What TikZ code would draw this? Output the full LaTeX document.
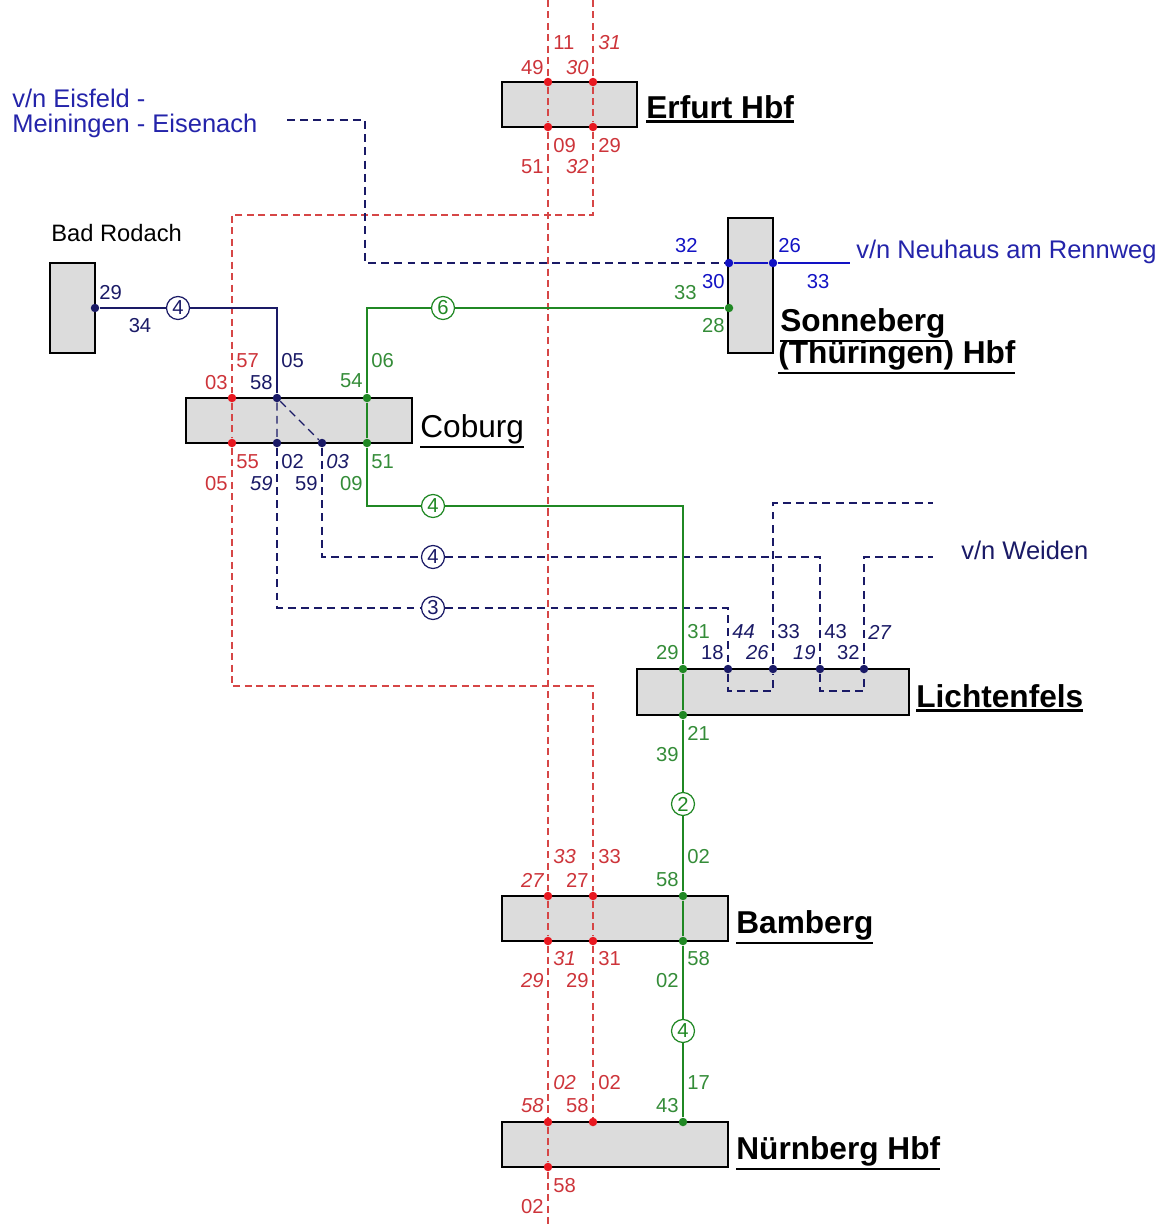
\documentclass[tikz,border=0pt]{standalone}
\usepackage{fontspec}
\setmainfont{Liberation Sans}
\usetikzlibrary{positioning}

\definecolor{rlred}{RGB}{214,70,70}
\definecolor{dotred}{RGB}{232,24,32}
\definecolor{txtred}{RGB}{205,52,58}
\definecolor{rlgreen}{RGB}{32,136,36}
\definecolor{txtgreen}{RGB}{52,140,56}
\definecolor{rlnavy}{RGB}{26,26,102}
\definecolor{rlblue}{RGB}{18,18,196}
\definecolor{txtblue}{RGB}{36,36,170}
\definecolor{boxgray}{RGB}{220,220,220}

\newcommand{\numfont}{\fontsize{11.5}{13}\selectfont}
\newcommand{\stnfont}{\fontsize{18}{20}\selectfont}
\newcommand{\vnfont}{\fontsize{14.5}{17}\selectfont}
\newcommand{\stnline}[1]{\vtop{\hbox{#1}\kern1.1pt\hrule height 1.3pt}}

\begin{document}
\begin{tikzpicture}[x=0.02cm,y=-0.02cm,
    stn/.style={draw=black,line width=0.9pt,fill=boxgray,inner sep=0pt},
    jdot/.style={circle,fill=#1,inner sep=0pt,minimum size=0.17cm},
    nring/.style={circle,draw=#1,text=#1,fill=white,line width=0.7pt,inner sep=0pt,minimum size=0.46cm,font=\numfont},
    pnum/.style={text=#1,inner sep=0pt,font=\numfont},
    pnumi/.style={text=#1,inner sep=0pt,font=\numfont\itshape},
    redline/.style={draw=rlred,line width=0.6pt,dash pattern=on 4pt off 2.5pt},
    navydash/.style={draw=rlnavy,line width=0.75pt,dash pattern=on 4.5pt off 3pt},
    navyline/.style={draw=rlnavy,line width=0.75pt},
    blueline/.style={draw=rlblue,line width=0.75pt},
    greenline/.style={draw=rlgreen,line width=0.75pt}]
    \useasboundingbox (0,0) rectangle (1168,1225);

    % stations
    \node[stn,minimum width=2.7cm,minimum height=0.9cm] (erfurt) at (569.5,104.5) {};
    \node[stn,minimum width=0.9cm,minimum height=2.7cm] (sonneberg) at (750.5,285.5) {};
    \node[stn,minimum width=0.9cm,minimum height=1.8cm] (rodach) at (72.5,308) {};
    \node[stn,minimum width=4.52cm,minimum height=0.9cm] (coburg) at (299,420.5) {};
    \node[stn,minimum width=5.44cm,minimum height=0.92cm] (lichtenfels) at (773,692) {};
    \node[stn,minimum width=4.52cm,minimum height=0.9cm] (bamberg) at (615,918.5) {};
    \node[stn,minimum width=4.52cm,minimum height=0.9cm] (nuernberg) at (615,1144.5) {};

    \node[anchor=base west,inner sep=0pt,font=\stnfont\bfseries] (erfurtname) at (646,118) {\stnline{Erfurt Hbf}};
    \node[anchor=base west,inner sep=0pt,font=\stnfont\bfseries] (sonnename1) at (780,331) {\stnline{Sonneberg}};
    \node[anchor=base west,inner sep=0pt,font=\stnfont\bfseries] (sonnename2) at (778,363) {\stnline{(Thüringen) Hbf}};
    \node[anchor=base west,inner sep=0pt,font=\stnfont] (coburgname) at (420,437) {\stnline{Coburg}};
    \node[anchor=base west,inner sep=0pt,font=\stnfont\bfseries] (lichtname) at (916,707) {\stnline{Lichtenfels}};
    \node[anchor=base west,inner sep=0pt,font=\stnfont\bfseries] (bambergname) at (736,933) {\stnline{Bamberg}};
    \node[anchor=base west,inner sep=0pt,font=\stnfont\bfseries] (nuername) at (736,1159) {\stnline{Nürnberg Hbf}};

    \node[anchor=base west,inner sep=0pt,font=\fontsize{13.5}{16}\selectfont] (rodachname) at (51,241) {Bad Rodach};
    \node[anchor=base west,inner sep=0pt,font=\vnfont,text=txtblue] (eisname1) at (12,107) {v/n Eisfeld -};
    \node[anchor=base west,inner sep=0pt,font=\vnfont,text=txtblue] (eisname2) at (12,132) {Meiningen - Eisenach};
    \node[anchor=base west,inner sep=0pt,font=\vnfont,text=txtblue] (neuname) at (856,258) {v/n Neuhaus am Rennweg};
    \node[anchor=base west,inner sep=0pt,font=\vnfont,text=rlnavy] (weidname) at (961,559) {v/n Weiden};

    % track points
    \node[jdot=dotred] (e1) at (548,82) {};
    \node[jdot=dotred] (e2) at (593,82) {};
    \node[jdot=dotred] (e3) at (548,127) {};
    \node[jdot=dotred] (e4) at (593,127) {};
    \node[jdot=dotred] (cr1) at (232,398) {};
    \node[jdot=dotred] (cr2) at (232,443) {};
    \node[jdot=rlnavy] (cn1) at (277,398) {};
    \node[jdot=rlnavy] (cn2) at (277,443) {};
    \node[jdot=rlnavy] (cn3) at (322,443) {};
    \node[jdot=rlgreen] (cg1) at (367,398) {};
    \node[jdot=rlgreen] (cg2) at (367,443) {};
    \node[jdot=rlnavy] (brd) at (95,308) {};
    \node[jdot=rlblue] (sb1) at (729,263) {};
    \node[jdot=rlblue] (sb2) at (773,263) {};
    \node[jdot=rlgreen] (sg) at (729,308) {};
    \node[jdot=rlgreen] (lg1) at (683,669) {};
    \node[jdot=rlgreen] (lg2) at (683,715) {};
    \node[jdot=rlnavy] (ln1) at (728,669) {};
    \node[jdot=rlnavy] (ln2) at (773,669) {};
    \node[jdot=rlnavy] (ln3) at (820,669) {};
    \node[jdot=rlnavy] (ln4) at (864,669) {};
    \node[jdot=dotred] (ba1) at (548,896) {};
    \node[jdot=dotred] (ba2) at (593,896) {};
    \node[jdot=dotred] (ba3) at (548,941) {};
    \node[jdot=dotred] (ba4) at (593,941) {};
    \node[jdot=rlgreen] (bg1) at (683,896) {};
    \node[jdot=rlgreen] (bg2) at (683,941) {};
    \node[jdot=dotred] (n1) at (548,1122) {};
    \node[jdot=dotred] (n2) at (593,1122) {};
    \node[jdot=dotred] (n3) at (548,1167) {};
    \node[jdot=rlgreen] (ng) at (683,1122) {};

    % line numbers
    \node[nring=rlnavy] (rbr) at (178,308) {4};
    \node[nring=rlgreen] (rg6) at (443,308) {6};
    \node[nring=rlgreen] (rg4a) at (433,506) {4};
    \node[nring=rlnavy] (rn4) at (433,557) {4};
    \node[nring=rlnavy] (rn3) at (433,608) {3};
    \node[nring=rlgreen] (rg2) at (683,804) {2};
    \node[nring=rlgreen] (rg4b) at (683,1031) {4};

    % corners and open ends
    \coordinate (redtopA) at (548,0);
    \coordinate (redtopB) at (593,0);
    \coordinate (redbot) at (548,1225);
    \coordinate (rc1) at (593,215);
    \coordinate (rc2) at (232,215);
    \coordinate (rc3) at (232,686);
    \coordinate (rc4) at (593,686);
    \coordinate (bc1) at (277,308);
    \coordinate (nd1) at (277,608);
    \coordinate (nd2) at (728,608);
    \coordinate (nd3) at (322,557);
    \coordinate (nd4) at (820,557);
    \coordinate (u1) at (728,691);
    \coordinate (u2) at (773,691);
    \coordinate (u3) at (820,691);
    \coordinate (u4) at (864,691);
    \coordinate (w1) at (773,503);
    \coordinate (w2) at (933,503);
    \coordinate (w3) at (864,557);
    \coordinate (w4) at (933,557);
    \coordinate (ei1) at (287,120);
    \coordinate (ei2) at (365,120);
    \coordinate (ei3) at (365,263);
    \coordinate (neu) at (850,263);
    \coordinate (gc1) at (367,308);
    \coordinate (gc2) at (367,506);
    \coordinate (gc3) at (683,506);

    % red routes
    \draw[redline] (redtopA) -- (e1) (e1) -- (e3) (e3) -- (ba1) (ba1) -- (ba3) (ba3) -- (n1) (n1) -- (n3) (n3) -- (redbot);
    \draw[redline] (redtopB) -- (e2) (e2) -- (e4) (e4) -- (rc1) -- (rc2) -- (cr1) (cr1) -- (cr2) (cr2) -- (rc3) -- (rc4) -- (ba2) (ba2) -- (ba4) (ba4) -- (n2);

    % navy and blue routes
    \draw[navyline] (brd) -- (rbr) (rbr) -- (bc1) -- (cn1);
    \draw[navydash] (cn1) -- (cn2) (cn1) -- (cn3);
    \draw[navydash] (cn2) -- (nd1) -- (rn3) (rn3) -- (nd2) -- (ln1);
    \draw[navydash] (cn3) -- (nd3) -- (rn4) (rn4) -- (nd4) -- (ln3);
    \draw[navydash] (ln1) -- (u1) -- (u2) -- (ln2) (ln3) -- (u3) -- (u4) -- (ln4);
    \draw[navydash] (ln2) -- (w1) -- (w2) (ln4) -- (w3) -- (w4);
    \draw[navydash] (ei1) -- (ei2) -- (ei3) -- (sb1);
    \draw[blueline] (sb1) -- (sb2) (sb2) -- (neu);

    % green route
    \draw[greenline] (sg) -- (rg6) (rg6) -- (gc1) -- (cg1) (cg1) -- (cg2) (cg2) -- (gc2) -- (rg4a) (rg4a) -- (gc3) -- (lg1);
    \draw[greenline] (lg1) -- (lg2) (lg2) -- (rg2) (rg2) -- (bg1) (bg1) -- (bg2) (bg2) -- (rg4b) (rg4b) -- (ng);

    % Erfurt labels
    \node[pnum=txtred,anchor=west] (l1) at (553,43) {11};
    \node[pnum=txtred,anchor=east] (l2) at (544,68) {49};
    \node[pnumi=txtred,anchor=west] (l3) at (598,43) {31};
    \node[pnumi=txtred,anchor=east] (l4) at (589,68) {30};
    \node[pnum=txtred,anchor=west] (l5) at (553,146) {09};
    \node[pnum=txtred,anchor=east] (l6) at (544,167) {51};
    \node[pnum=txtred,anchor=west] (l7) at (598,146) {29};
    \node[pnumi=txtred,anchor=east] (l8) at (589,167) {32};

    % Sonneberg and Bad Rodach labels
    \node[pnum=rlblue,anchor=east] (l9) at (698,246) {32};
    \node[pnum=rlblue,anchor=west] (l10) at (778,246) {26};
    \node[pnum=rlblue,anchor=east] (l11) at (725,282) {30};
    \node[pnum=rlblue] (l12) at (818,282) {33};
    \node[pnum=txtgreen,anchor=east] (l13) at (697,293) {33};
    \node[pnum=txtgreen,anchor=east] (l14) at (725,326) {28};
    \node[pnum=rlnavy,anchor=west] (l15) at (99,293) {29};
    \node[pnum=rlnavy] (l16) at (140,326) {34};

    % Coburg labels
    \node[pnum=txtred,anchor=east] (l17) at (228,383) {03};
    \node[pnum=txtred,anchor=west] (l18) at (236,361) {57};
    \node[pnum=txtred,anchor=west] (l19) at (236,462) {55};
    \node[pnum=txtred,anchor=east] (l20) at (228,484) {05};
    \node[pnum=rlnavy,anchor=west] (l21) at (281,361) {05};
    \node[pnum=rlnavy,anchor=east] (l22) at (273,383) {58};
    \node[pnum=rlnavy,anchor=west] (l23) at (281,462) {02};
    \node[pnumi=rlnavy,anchor=east] (l24) at (273,484) {59};
    \node[pnumi=rlnavy,anchor=west] (l25) at (326,462) {03};
    \node[pnum=rlnavy,anchor=east] (l26) at (318,484) {59};
    \node[pnum=txtgreen,anchor=east] (l27) at (363,381) {54};
    \node[pnum=txtgreen,anchor=west] (l28) at (371,361) {06};
    \node[pnum=txtgreen,anchor=west] (l29) at (371,462) {51};
    \node[pnum=txtgreen,anchor=east] (l30) at (363,484) {09};

    % Lichtenfels labels
    \node[pnum=txtgreen,anchor=west] (l31) at (687,632) {31};
    \node[pnum=txtgreen,anchor=east] (l32) at (679,653) {29};
    \node[pnum=txtgreen,anchor=west] (l33) at (687,733) {21};
    \node[pnum=txtgreen,anchor=east] (l34) at (679,755) {39};
    \node[pnum=rlnavy,anchor=east] (l35) at (724,653) {18};
    \node[pnumi=rlnavy,anchor=west] (l36) at (732,632) {44};
    \node[pnumi=rlnavy,anchor=east] (l37) at (769,653) {26};
    \node[pnum=rlnavy,anchor=west] (l38) at (777,632) {33};
    \node[pnumi=rlnavy,anchor=east] (l39) at (816,653) {19};
    \node[pnum=rlnavy,anchor=west] (l40) at (824,632) {43};
    \node[pnum=rlnavy,anchor=east] (l41) at (860,653) {32};
    \node[pnumi=rlnavy,anchor=west] (l42) at (868,632) {27};

    % Bamberg labels
    \node[pnumi=txtred,anchor=west] (l43) at (553,857) {33};
    \node[pnumi=txtred,anchor=east] (l44) at (544,880) {27};
    \node[pnum=txtred,anchor=west] (l45) at (598,857) {33};
    \node[pnum=txtred,anchor=east] (l46) at (589,880) {27};
    \node[pnumi=txtred,anchor=west] (l47) at (553,959) {31};
    \node[pnumi=txtred,anchor=east] (l48) at (544,981) {29};
    \node[pnum=txtred,anchor=west] (l49) at (598,959) {31};
    \node[pnum=txtred,anchor=east] (l50) at (589,981) {29};
    \node[pnum=txtgreen,anchor=west] (l51) at (687,857) {02};
    \node[pnum=txtgreen,anchor=east] (l52) at (679,880) {58};
    \node[pnum=txtgreen,anchor=west] (l53) at (687,959) {58};
    \node[pnum=txtgreen,anchor=east] (l54) at (679,981) {02};

    % Nuernberg labels
    \node[pnumi=txtred,anchor=west] (l55) at (553,1083) {02};
    \node[pnumi=txtred,anchor=east] (l56) at (544,1106) {58};
    \node[pnum=txtred,anchor=west] (l57) at (598,1083) {02};
    \node[pnum=txtred,anchor=east] (l58) at (589,1106) {58};
    \node[pnum=txtred,anchor=west] (l59) at (553,1186) {58};
    \node[pnum=txtred,anchor=east] (l60) at (544,1207) {02};
    \node[pnum=txtgreen,anchor=west] (l61) at (687,1083) {17};
    \node[pnum=txtgreen,anchor=east] (l62) at (679,1106) {43};
\end{tikzpicture}
\end{document}
